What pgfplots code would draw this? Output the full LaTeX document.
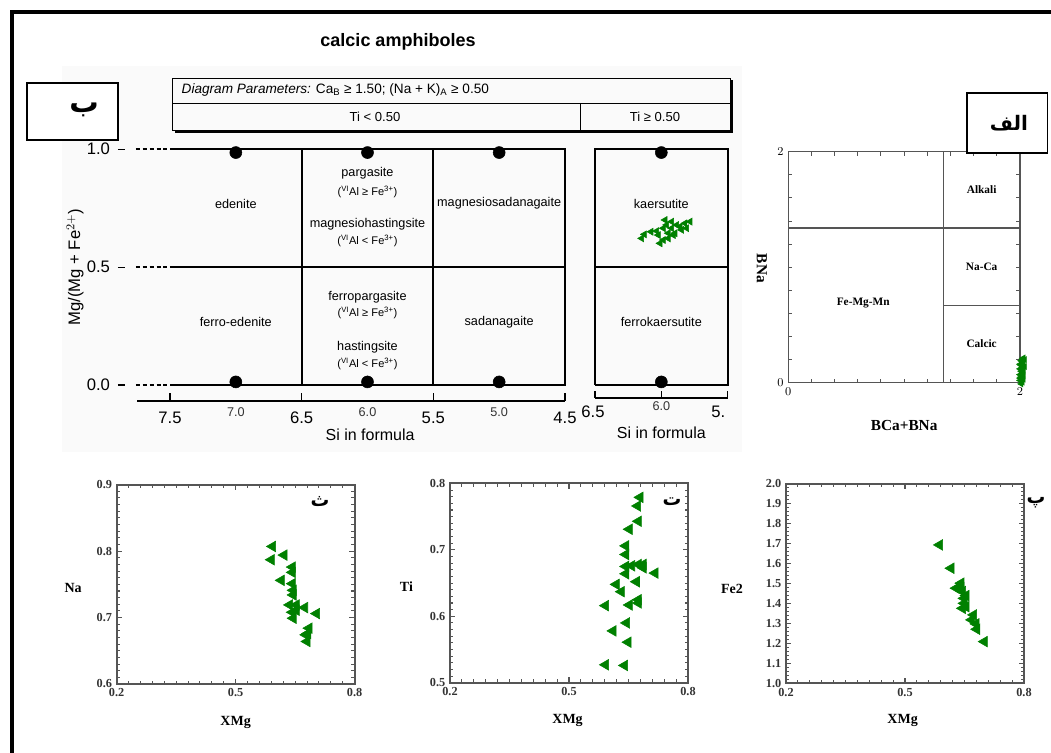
\documentclass[border=0pt]{standalone}
\usepackage{fontspec}
\setmainfont{Liberation Sans}
\newfontfamily\tnr{Liberation Serif}
\newfontfamily\arabicfont[Script=Arabic]{DejaVu Sans}
\usepackage{pgfplots}
\pgfplotsset{compat=1.18}
\TeXXeTstate=1

\definecolor{grn}{RGB}{0,128,0}
\definecolor{axg}{RGB}{85,85,85}
\newcommand\fsz[1]{\fontsize{#1}{#1}\selectfont}
\newcommand\ar[1]{{\arabicfont\bfseries\beginR #1\endR}}
\newcommand\vial{(\textsuperscript{VI}Al}

\pgfplotsset{
  tri/.style={only marks, mark=triangle*, mark size=#1,
    mark options={rotate=90, draw=grn, fill=grn}},
  tri/.default=4.6pt,
  xmg/.style={
    scale only axis, width=178.5pt, height=149.5pt, clip=false,
    xmin=0.2, xmax=0.8, xtick={0.2,0.5,0.8}, minor x tick num=9,
    tick align=inside,
    axis line style={axg, line width=1.5pt},
    tick style={axg, line width=0.8pt},
    major tick length=4pt, minor tick length=2.5pt,
    /pgf/number format/assume math mode=true,
    xticklabel style={/pgf/number format/.cd, fixed, fixed zerofill, precision=1},
    yticklabel style={/pgf/number format/.cd, fixed, fixed zerofill, precision=1},
    tick label style={font=\tnr\bfseries\fsz{9.2}, text=black!80},
  },
  bline/.style={black, line width=1.4pt},
}

\begin{document}
\begin{tikzpicture}[x=0.75pt, y=0.75pt]
\path[use as bounding box] (0,0) rectangle (1051,753);

% faint scan background behind the classification diagram
\fill[black!2] (62,{753-66}) rectangle (742,{753-452});

% outer frame
\draw[black, line width=2.3pt] (12,0) -- (12,{753-12}) -- (1051,{753-12});

% header
\node[font=\bfseries\fsz{13.5}] at (398,{753-42}) {calcic amphiboles};
\draw[black, line width=0.7pt] (172,{753-78}) rectangle (730,{753-130});
\draw[black, line width=2.4pt] (175,{753-131.5}) -- (731.5,{753-131.5}) -- (731.5,{753-80});
\draw[black, line width=0.7pt] (172,{753-103}) -- (730,{753-103});
\draw[black, line width=0.7pt] (580,{753-103}) -- (580,{753-130});
\node[anchor=west, font=\fsz{10.2}] at (177,{753-90})
  {\textit{Diagram Parameters:} Ca\textsubscript{B} ≥ 1.50; (Na + K)\textsubscript{A} ≥ 0.50};
\node[font=\fsz{9.8}] at (375,{753-117}) {Ti < 0.50};
\node[font=\fsz{9.8}] at (655,{753-117}) {Ti ≥ 0.50};

% ---------- main classification panel ----------
\begin{axis}[at={(127.5pt,276pt)}, anchor=south west, scale only axis,
  width=296.25pt, height=176.8pt, xmin=4.5, xmax=7.5, x dir=reverse,
  ymin=0, ymax=1, hide axis, clip=false]
\addplot[bline] coordinates {(7.5,1) (4.5,1) (4.5,0) (7.5,0)};
\addplot[bline] coordinates {(7.5,0.5) (4.5,0.5)};
\addplot[bline] coordinates {(6.5,0) (6.5,1)};
\addplot[bline] coordinates {(5.5,0) (5.5,1)};
\addplot[bline, dash pattern=on 3pt off 2.2pt] coordinates {(7.76,1) (7.5,1)};
\addplot[bline, dash pattern=on 3pt off 2.2pt] coordinates {(7.76,0.5) (7.5,0.5)};
\addplot[bline, dash pattern=on 3pt off 2.2pt] coordinates {(7.76,0) (7.5,0)};
\addplot[black, line width=0.8pt] coordinates {(7.895,1) (7.84,1)};
\addplot[black, line width=0.8pt] coordinates {(7.895,0.5) (7.84,0.5)};
\addplot[black, line width=0.8pt] coordinates {(7.895,0) (7.84,0)};
\addplot[only marks, mark=*, mark size=4.5pt, black]
  coordinates {(7,0.986) (6,0.986) (5,0.986) (7,0.013) (6,0.013) (5,0.013)};
% Si axis
\addplot[black, line width=1.2pt] coordinates {(7.75,-0.068) (4.5,-0.068)};
\addplot[black, line width=1.2pt] coordinates {(7.5,-0.068) (7.5,-0.035)};
\addplot[black, line width=1.2pt] coordinates {(6.5,-0.068) (6.5,-0.035)};
\addplot[black, line width=1.2pt] coordinates {(5.5,-0.068) (5.5,-0.035)};
\addplot[black, line width=1.2pt] coordinates {(4.5,-0.068) (4.5,-0.035)};
\node[font=\fsz{12.5}] at (axis cs:7.5,-0.141) {7.5};
\node[font=\fsz{12.5}] at (axis cs:6.5,-0.141) {6.5};
\node[font=\fsz{12.5}] at (axis cs:5.5,-0.141) {5.5};
\node[font=\fsz{12.5}] at (axis cs:4.5,-0.141) {4.5};
\node[font=\fsz{9.5}, text=black!80] at (axis cs:7,-0.114) {7.0};
\node[font=\fsz{9.5}, text=black!80] at (axis cs:6,-0.114) {6.0};
\node[font=\fsz{9.5}, text=black!80] at (axis cs:5,-0.114) {5.0};
\node[font=\fsz{12}] at (axis cs:5.98,-0.212) {Si in formula};
\node[font=\fsz{12.5}, anchor=east] at (axis cs:7.92,1) {1.0};
\node[font=\fsz{12.5}, anchor=east] at (axis cs:7.92,0.5) {0.5};
\node[font=\fsz{12.5}, anchor=east] at (axis cs:7.92,0) {0.0};
\node[font=\fsz{12.5}, rotate=90] at (axis cs:8.22,0.5) {Mg/(Mg + Fe$^{2+}$)};
% field names
\node[font=\fsz{9.5}] at (axis cs:7,0.77) {edenite};
\node[font=\fsz{9.5}] at (axis cs:7,0.268) {ferro-edenite};
\node[font=\fsz{9.5}] at (axis cs:6,0.898) {pargasite};
\node[font=\fsz{8.3}] at (axis cs:6,0.82) {\vial{} ≥ Fe\textsuperscript{3+})};
\node[font=\fsz{9.5}] at (axis cs:6,0.682) {magnesiohastingsite};
\node[font=\fsz{8.3}] at (axis cs:6,0.61) {\vial{} < Fe\textsuperscript{3+})};
\node[font=\fsz{9.5}] at (axis cs:5,0.77) {magnesiosadanagaite};
\node[font=\fsz{9.5}] at (axis cs:6,0.374) {ferropargasite};
\node[font=\fsz{8.3}] at (axis cs:6,0.305) {\vial{} ≥ Fe\textsuperscript{3+})};
\node[font=\fsz{9.5}] at (axis cs:6,0.162) {hastingsite};
\node[font=\fsz{8.3}] at (axis cs:6,0.089) {\vial{} < Fe\textsuperscript{3+})};
\node[font=\fsz{9.5}] at (axis cs:5,0.268) {sadanagaite};
\end{axis}

% ---------- Ti >= 0.50 panel ----------
\begin{axis}[at={(446.25pt,276pt)}, anchor=south west, scale only axis,
  width=99.5pt, height=176.8pt, xmin=5.5, xmax=6.5, x dir=reverse,
  ymin=0, ymax=1, hide axis, clip=false]
\addplot[bline] coordinates {(6.5,0) (6.5,1) (5.5,1) (5.5,0) (6.5,0)};
\addplot[bline] coordinates {(6.5,0.5) (5.5,0.5)};
\addplot[only marks, mark=*, mark size=4.5pt, black]
  coordinates {(6,0.986) (6,0.013)};
\addplot[black, line width=1.2pt] coordinates {(6.5,-0.054) (5.5,-0.054)};
\addplot[black, line width=1.2pt] coordinates {(6.5,-0.054) (6.5,-0.024)};
\addplot[black, line width=1.2pt] coordinates {(6.0,-0.054) (6.0,-0.024)};
\addplot[black, line width=1.2pt] coordinates {(5.5,-0.054) (5.5,-0.024)};
\node[font=\fsz{12.5}] at (axis cs:6.515,-0.113) {6.5};
\node[font=\fsz{9.5}, text=black!80] at (axis cs:6,-0.088) {6.0};
\node[font=\fsz{12.5}] at (axis cs:5.57,-0.113) {5.};
\node[font=\fsz{12}] at (axis cs:6,-0.204) {Si in formula};
\node[font=\fsz{9.5}] at (axis cs:6,0.77) {kaersutite};
\node[font=\fsz{9.5}] at (axis cs:6,0.268) {ferrokaersutite};
\addplot[tri=3pt] coordinates {
(6.148,0.622) (6.128,0.639) (6.078,0.650) (6.035,0.653) (6.023,0.636)
(5.972,0.700) (5.960,0.679) (5.922,0.665) (5.948,0.644) (5.897,0.644)
(5.859,0.672) (5.822,0.686) (5.784,0.693) (6.010,0.601) (5.985,0.615)
(5.948,0.622) (5.910,0.636) (5.847,0.658) (5.809,0.665) (5.922,0.693)
(5.884,0.679) (5.985,0.665)};
\end{axis}

% ---------- BCa+BNa vs BNa ----------
\begin{axis}[at={(591.2pt,277.7pt)}, anchor=south west, scale only axis,
  width=173.8pt, height=173.3pt, xmin=0, xmax=2, ymin=0, ymax=2,
  xtick={0,2}, ytick={0,2}, minor x tick num=9, minor y tick num=9,
  tick align=inside, clip=false,
  axis line style={axg, line width=1.1pt},
  tick style={axg, line width=0.7pt},
  major tick length=3pt, minor tick length=3pt,
  tick label style={font=\tnr\bfseries\fsz{9}}]
\addplot[axg, line width=1.1pt] coordinates {(1.34,0) (1.34,2)};
\addplot[axg, line width=1.1pt] coordinates {(0,1.34) (2,1.34)};
\addplot[axg, line width=1.1pt] coordinates {(1.34,0.67) (2,0.67)};
\node[font=\tnr\bfseries\fsz{8.5}] at (axis cs:1.669,1.668) {Alkali};
\node[font=\tnr\bfseries\fsz{8.5}] at (axis cs:1.669,1.004) {Na-Ca};
\node[font=\tnr\bfseries\fsz{8.5}] at (axis cs:0.647,0.687) {Fe-Mg-Mn};
\node[font=\tnr\bfseries\fsz{8.5}] at (axis cs:1.669,0.341) {Calcic};
\node[font=\tnr\bfseries\fsz{11.5}] at (axis cs:1.0,-0.37) {BCa+BNa};
\node[font=\tnr\bfseries\fsz{11.5}, rotate=-90] at (axis cs:-0.228,0.99) {BNa};
\addplot[tri=2.6pt] coordinates {
(2.01,-0.01) (2.02,0.005) (2.00,0.02) (2.03,0.03) (2.02,0.035) (2.01,0.05)
(2.03,0.06) (2.00,0.07) (2.02,0.085) (2.03,0.09) (2.01,0.10) (2.03,0.11)
(2.00,0.12) (2.02,0.135) (2.04,0.14) (2.01,0.15) (2.00,0.16) (2.02,0.165)
(2.03,0.18) (2.01,0.19) (2.04,0.20) (2.02,0.205) (2.03,0.215) (2.00,0.04)};
\end{axis}

% ---------- XMg vs Na ----------
\begin{axis}[xmg, at={(87.5pt,51.75pt)}, anchor=south west,
  ymin=0.6, ymax=0.9, ytick={0.6,0.7,0.8,0.9}, minor y tick num=9]
\addplot[tri] coordinates {
(0.593,0.807) (0.590,0.787) (0.622,0.794) (0.643,0.776) (0.643,0.768)
(0.615,0.756) (0.643,0.751) (0.645,0.741) (0.645,0.734) (0.636,0.719)
(0.653,0.719) (0.674,0.715) (0.643,0.708) (0.704,0.706) (0.645,0.699)
(0.685,0.684) (0.677,0.674) (0.680,0.664) (0.653,0.711) (0.682,0.676)};
\node[font=\tnr\bfseries\fsz{10.5}] at (rel axis cs:-0.183,0.48) {Na};
\node[font=\tnr\bfseries\fsz{10.5}] at (rel axis cs:0.5,-0.195) {XMg};
\end{axis}

% ---------- XMg vs Ti ----------
\begin{axis}[xmg, at={(337.5pt,52.7pt)}, anchor=south west,
  ymin=0.5, ymax=0.8, ytick={0.5,0.6,0.7,0.8}, minor y tick num=9]
\addplot[tri] coordinates {
(0.679,0.779) (0.673,0.766) (0.675,0.743) (0.652,0.731) (0.643,0.706)
(0.643,0.693) (0.643,0.675) (0.675,0.678) (0.687,0.678) (0.643,0.664)
(0.670,0.652) (0.619,0.648) (0.632,0.637) (0.675,0.625) (0.652,0.617)
(0.592,0.616) (0.645,0.590) (0.611,0.578) (0.649,0.561) (0.592,0.527)
(0.640,0.526) (0.717,0.665) (0.687,0.673) (0.658,0.676) (0.675,0.620)};
\node[font=\tnr\bfseries\fsz{10.5}] at (rel axis cs:-0.183,0.48) {Ti};
\node[font=\tnr\bfseries\fsz{10.5}] at (rel axis cs:0.494,-0.19) {XMg};
\end{axis}

% ---------- XMg vs Fe2 ----------
\begin{axis}[xmg, at={(589.5pt,52.3pt)}, anchor=south west,
  ymin=1, ymax=2, ytick distance=0.1, minor y tick num=4]
\addplot[tri] coordinates {
(0.587,1.694) (0.616,1.577) (0.641,1.502) (0.629,1.477) (0.645,1.460)
(0.649,1.426) (0.649,1.401) (0.645,1.376) (0.654,1.384) (0.673,1.343)
(0.668,1.318) (0.679,1.298) (0.681,1.271) (0.700,1.209) (0.641,1.480)
(0.654,1.440)};
\node[font=\tnr\bfseries\fsz{10.5}] at (rel axis cs:-0.227,0.475) {Fe2};
\node[font=\tnr\bfseries\fsz{10.5}] at (rel axis cs:0.49,-0.185) {XMg};
\end{axis}

% panel letters
\draw[black, line width=1.2pt, fill=white] (27,{753-83}) rectangle (118,{753-140});
\node[font=\fsz{22}] at (84,{753-110}) {\ar{ب}};
\draw[black, line width=1.2pt, fill=white] (966.7,{753-93.3}) rectangle (1047.3,{753-153.3});
\node[font=\fsz{15}] at (1009,{753-123}) {\ar{الف}};
\node[font=\fsz{14}] at (320,{753-502}) {\ar{ث}};
\node[font=\fsz{14}] at (672,{753-502}) {\ar{ت}};
\node[font=\fsz{14}] at (1036,{753-503}) {\ar{پ}};
\end{tikzpicture}
\end{document}
